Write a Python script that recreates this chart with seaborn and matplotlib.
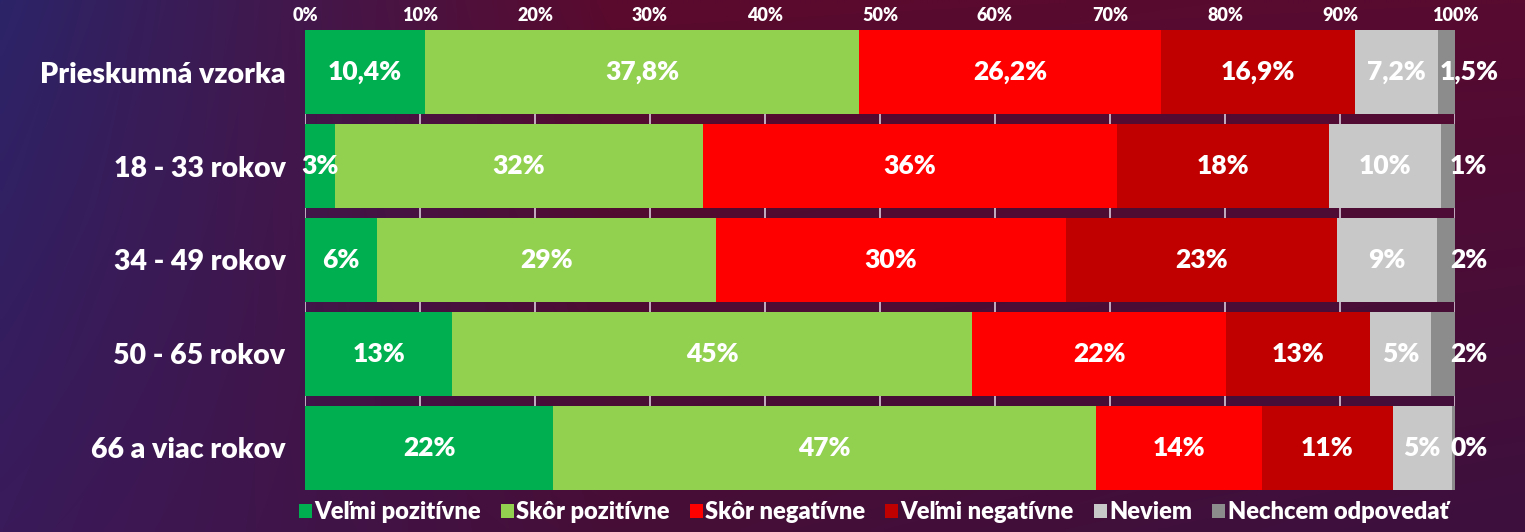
import numpy as np
import pandas as pd
import matplotlib
matplotlib.use("Agg")
import matplotlib.pyplot as plt
from matplotlib.patches import Patch
import seaborn as sns

# ---------------------------------------------
# data
# ---------------------------------------------
groups = ["Prieskumná vzorka", "18 - 33 rokov", "34 - 49 rokov",
          "50 - 65 rokov", "66 a viac rokov"]
answers = ["Veľmi pozitívne", "Skôr pozitívne", "Skôr negatívne",
           "Veľmi negatívne", "Neviem", "Nechcem odpovedať"]

velmi_poz = [10.4, 2.6, 6.3, 12.8, 21.6]
skor_poz = [37.8, 32.0, 29.4, 45.2, 47.2]
skor_neg = [26.2, 36.0, 30.5, 22.1, 14.4]
velmi_neg = [16.9, 18.4, 23.5, 12.5, 11.4]
neviem = [7.2, 9.8, 8.7, 5.3, 5.1]
nechcem = [1.5, 1.2, 1.6, 2.1, 0.3]

labels_velmi_poz = ["10,4%", "3%", "6%", "13%", "22%"]
labels_skor_poz = ["37,8%", "32%", "29%", "45%", "47%"]
labels_skor_neg = ["26,2%", "36%", "30%", "22%", "14%"]
labels_velmi_neg = ["16,9%", "18%", "23%", "13%", "11%"]
labels_neviem = ["7,2%", "10%", "9%", "5%", "5%"]
labels_nechcem = ["1,5%", "1%", "2%", "2%", "0%"]

colors = ["#00B050", "#92D050", "#FF0000", "#C00000", "#C8C8C8", "#8C8C8C"]

series = [velmi_poz, skor_poz, skor_neg, velmi_neg, neviem, nechcem]
labels = [labels_velmi_poz, labels_skor_poz, labels_skor_neg,
          labels_velmi_neg, labels_neviem, labels_nechcem]

df = pd.DataFrame({a: s for a, s in zip(answers, series)}, index=groups)
cum = df.cumsum(axis=1)

# ---------------------------------------------
# figure
# ---------------------------------------------
sns.set_theme(style="white")
plt.rcParams["font.family"] = ["Lato", "DejaVu Sans"]

fig = plt.figure(figsize=(15.25, 5.32), dpi=100)

# gradient background
bg = fig.add_axes([0, 0, 1, 1], zorder=-10)
nx, ny = 300, 100
xs = np.linspace(0, 1, nx)
top = np.array([[44, 36, 104], [90, 10, 45], [88, 10, 48]]) / 255
bot = np.array([[58, 26, 90], [70, 14, 55], [60, 16, 62]]) / 255
kx = [0, 0.4, 1]
top_row = np.stack([np.interp(xs, kx, top[:, c]) for c in range(3)], axis=-1)
bot_row = np.stack([np.interp(xs, kx, bot[:, c]) for c in range(3)], axis=-1)
t = np.linspace(0, 1, ny)[:, None, None]
img = top_row[None] * (1 - t) + bot_row[None] * t
bg.imshow(img, aspect="auto", extent=[0, 1, 0, 1], interpolation="bilinear")
bg.axis("off")

ax = fig.add_axes([305 / 1525, 1 - 490 / 532, 1150 / 1525, 460 / 532])
ax.set_facecolor("none")

# stacked bars: draw cumulative totals from the widest down
for j in range(len(answers) - 1, -1, -1):
    part = pd.DataFrame({"group": groups, "value": cum[answers[j]].values})
    sns.barplot(data=part, x="value", y="group", orient="h", color=colors[j],
                width=0.9, saturation=1, linewidth=0, ax=ax, zorder=3)

# value labels
for j, a in enumerate(answers):
    left = cum[a].values - df[a].values
    for i in range(len(groups)):
        if j == len(answers) - 1:
            xpos = 101.2
        else:
            xpos = left[i] + df[a].values[i] / 2
        ax.text(xpos, i, labels[j][i], ha="center", va="center",
                color="white", fontsize=19, fontweight="heavy", zorder=5)

ax.set_xlim(0, 100)
ax.set_ylim(4.45, -0.45)
ax.set_xticks(np.arange(0, 101, 10))
ax.set_xticklabels([f"{v}%" for v in range(0, 101, 10)])
ax.xaxis.tick_top()
ax.tick_params(axis="x", colors="white", labelsize=13, length=0, pad=4)
ax.tick_params(axis="y", colors="white", labelsize=20.5, length=0, pad=14)
for lab in ax.get_xticklabels() + ax.get_yticklabels():
    lab.set_fontweight("heavy")
ax.set_xlabel("")
ax.set_ylabel("")
ax.grid(axis="x", color="#D8C8D8", linewidth=1.2, zorder=0)
ax.set_axisbelow(True)
for sp in ax.spines.values():
    sp.set_visible(False)

handles = [Patch(facecolor=c, edgecolor="none", label=a)
           for a, c in zip(answers, colors)]
leg = fig.legend(handles=handles, loc="center left", ncol=6,
                 bbox_to_anchor=(287 / 1525, 1 - 512 / 532), frameon=False,
                 handlelength=0.55, handleheight=0.55, handletextpad=0.1,
                 columnspacing=0.85, borderpad=0,
                 prop={"size": 17, "weight": "heavy"})
for txt in leg.get_texts():
    txt.set_color("white")

fig.savefig("out.png", dpi=100)
